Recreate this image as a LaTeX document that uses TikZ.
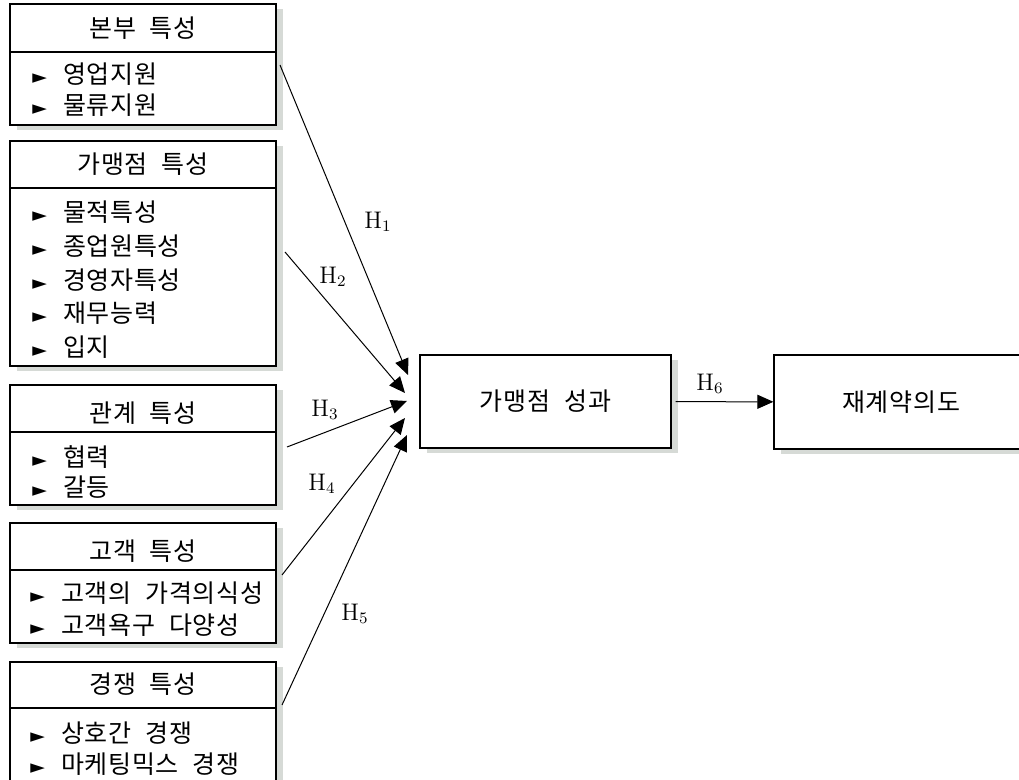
\documentclass[tikz,border=0pt]{standalone}
\usepackage{fontspec}
\newfontfamily\kr[LetterSpace=3,WordSpace=2.2]{Noto Sans CJK KR}
\newfontfamily\symfont{DejaVu Sans}
\usetikzlibrary{arrows.meta,shadows}
\definecolor{shade}{RGB}{214,218,214}
\newcommand{\itm}[1]{{\symfont\fontsize{9.5}{10}\selectfont ►}\hspace{8pt}#1}
\tikzset{
  catbox/.style={draw, line width=0.6pt, fill=white, inner sep=0pt, minimum width=133pt,
    drop shadow={shadow xshift=3.5pt, shadow yshift=-2.5pt, fill=shade, opacity=1}},
  kr/.style={font=\kr\fontsize{12.5}{14}\selectfont, inner sep=0pt},
  hlab/.style={font=\fontsize{12}{13}\selectfont, inner sep=0pt},
  hyp/.style={line width=0.5pt, -{Triangle[length=8pt,width=7pt]}}
}
\begin{document}
\begin{tikzpicture}[x=0.5pt,y=-0.5pt]
  \useasboundingbox[fill=white] (0,0) rectangle (1019,780);
  \clip (0,0) rectangle (1019,780);

  % left-hand groups
  \node[catbox, minimum height=60.5pt] (bonbu) at (143,64.5) {};
  \node[catbox, minimum height=112.5pt] (gamaeng) at (143,253.5) {};
  \node[catbox, minimum height=60pt] (gwangye) at (143,445) {};
  \node[catbox, minimum height=60pt] (gogaek) at (143,583) {};
  \node[catbox, minimum height=69pt] (gyeongjaeng) at (143,731) {};

  \draw[line width=0.6pt] (bonbu.west |- 0,52) -- (bonbu.east |- 0,52);
  \draw[line width=0.6pt] (gamaeng.west |- 0,188) -- (gamaeng.east |- 0,188);
  \draw[line width=0.6pt] (gwangye.west |- 0,432) -- (gwangye.east |- 0,432);
  \draw[line width=0.6pt] (gogaek.west |- 0,570) -- (gogaek.east |- 0,570);
  \draw[line width=0.6pt] (gyeongjaeng.west |- 0,708) -- (gyeongjaeng.east |- 0,708);

  \node[kr] (bonbu-h) at (143,28) {본부 특성};
  \node[kr, anchor=west] (bonbu-1) at (32,74) {\itm{영업지원}};
  \node[kr, anchor=west] (bonbu-2) at (32,105) {\itm{물류지원}};

  \node[kr] (gamaeng-h) at (143,164) {가맹점 특성};
  \node[kr, anchor=west] (gamaeng-1) at (32,212) {\itm{물적특성}};
  \node[kr, anchor=west] (gamaeng-2) at (32,246) {\itm{종업원특성}};
  \node[kr, anchor=west] (gamaeng-3) at (32,280) {\itm{경영자특성}};
  \node[kr, anchor=west] (gamaeng-4) at (32,313) {\itm{재무능력}};
  \node[kr, anchor=west] (gamaeng-5) at (32,347) {\itm{입지}};

  \node[kr] (gwangye-h) at (143,413) {관계 특성};
  \node[kr, anchor=west] (gwangye-1) at (32,457) {\itm{협력}};
  \node[kr, anchor=west] (gwangye-2) at (32,487) {\itm{갈등}};

  \node[kr] (gogaek-h) at (143,551) {고객 특성};
  \node[kr, anchor=west] (gogaek-1) at (30,593) {\itm{고객의 가격의식성}};
  \node[kr, anchor=west] (gogaek-2) at (30,625) {\itm{고객욕구 다양성}};

  \node[kr] (gyeongjaeng-h) at (143,684) {경쟁 특성};
  \node[kr, anchor=west] (gyeongjaeng-1) at (30,733) {\itm{상호간 경쟁}};
  \node[kr, anchor=west] (gyeongjaeng-2) at (30,764) {\itm{마케팅믹스 경쟁}};

  % outcome boxes
  \node[catbox, minimum width=125.5pt, minimum height=46.5pt, kr] (perf) at (545.5,401.5) {가맹점 성과};
  \node[catbox, minimum width=127pt, minimum height=47pt, kr] (renew) at (901,402) {재계약의도};

  % hypotheses
  \coordinate (s1) at (280,65);
  \coordinate (s2) at (285,252);
  \coordinate (s3) at (287,447);
  \coordinate (s4) at (282,575);
  \coordinate (s5) at (282,705);
  \coordinate (t1) at (408,375);
  \coordinate (t2) at (405,393);
  \coordinate (t3) at (407,401);
  \coordinate (t4) at (405,418);
  \coordinate (t5) at (407,435);
  \draw[hyp] (s1) -- (t1);
  \draw[hyp] (s2) -- (t2);
  \draw[hyp] (s3) -- (t3);
  \draw[hyp] (s4) -- (t4);
  \draw[hyp] (s5) -- (t5);
  \draw[hyp, shorten <=2pt] (perf) -- (renew);

  \node[hlab] (h1) at (378,222) {H$_1$};
  \node[hlab] (h2) at (333,277) {H$_2$};
  \node[hlab] (h3) at (325,410) {H$_3$};
  \node[hlab] (h4) at (322,484) {H$_4$};
  \node[hlab] (h5) at (355,614) {H$_5$};
  \node[hlab] (h6) at (710,384) {H$_6$};
\end{tikzpicture}
\end{document}
